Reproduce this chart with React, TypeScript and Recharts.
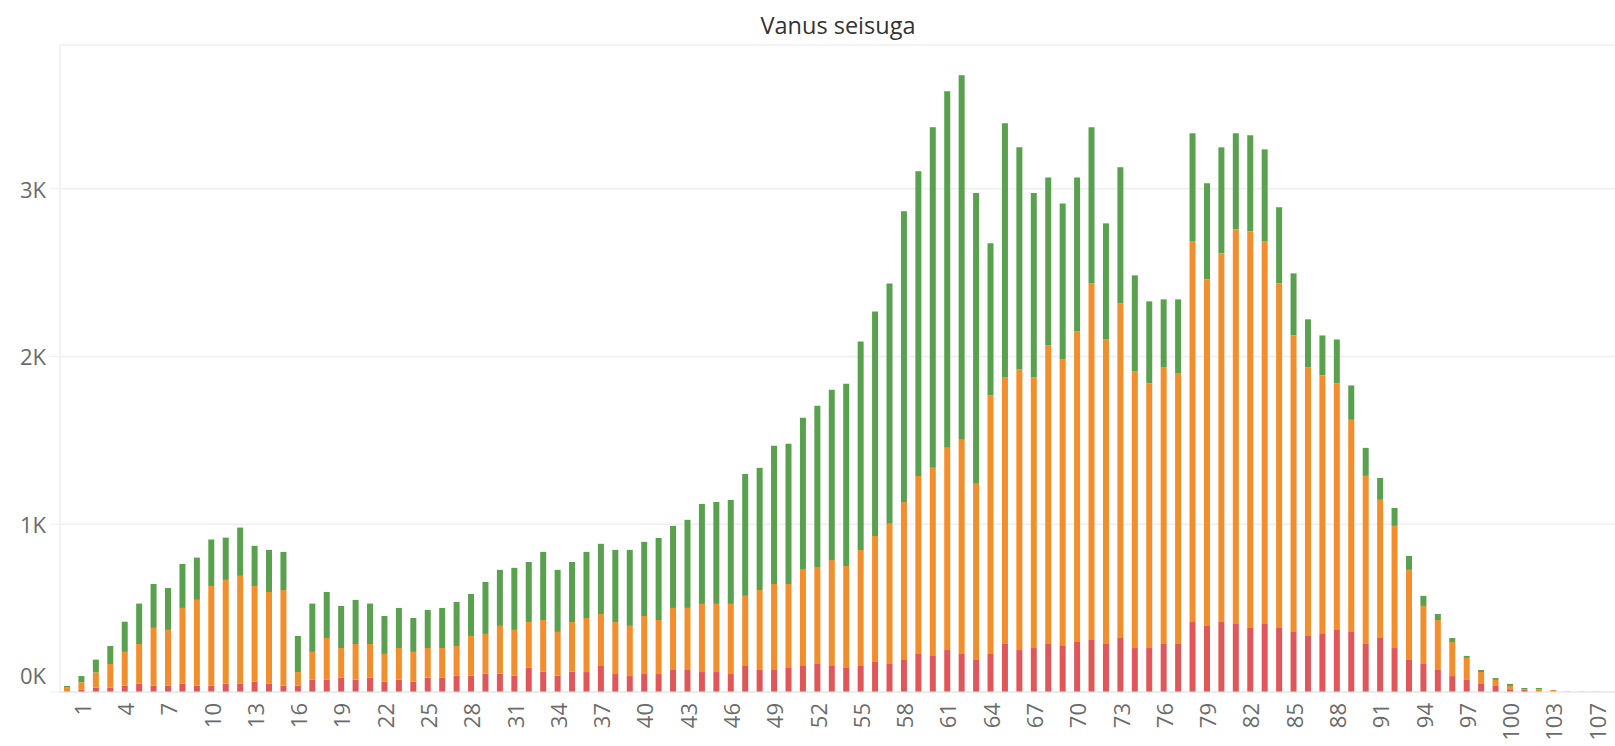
import { Bar, BarChart, CartesianGrid, XAxis, YAxis } from 'recharts'

// ages on the axis (104-106 partly missing in the source data)
const ages = [
  0, 1, 2, 3, 4, 5, 6, 7, 8, 9, 10, 11, 12, 13, 14, 15, 16, 17, 18, 19, 20,
  21, 22, 23, 24, 25, 26, 27, 28, 29, 30, 31, 32, 33, 34, 35, 36, 37, 38, 39,
  40, 41, 42, 43, 44, 45, 46, 47, 48, 49, 50, 51, 52, 53, 54, 55, 56, 57, 58,
  59, 60, 61, 62, 63, 64, 65, 66, 67, 68, 69, 70, 71, 72, 73, 74, 75, 76, 77,
  78, 79, 80, 81, 82, 83, 84, 85, 86, 87, 88, 89, 90, 91, 92, 93, 94, 95, 96,
  97, 98, 99, 100, 101, 102, 103, 104, 105, 107,
]

const redVals = [
  4, 14, 26, 26, 38, 50, 38, 38, 50, 38, 38, 50, 50, 62, 50, 38, 38, 74, 74,
  85, 74, 85, 62, 74, 62, 85, 85, 97, 97, 109, 109, 97, 145, 121, 97, 121,
  119, 155, 107, 95, 107, 107, 131, 131, 119, 119, 107, 155, 131, 131, 143,
  155, 167, 155, 143, 155, 179, 167, 191, 227, 215, 250, 227, 191, 227, 286,
  250, 262, 286, 274, 298, 310, 286, 322, 262, 262, 286, 286, 417, 394, 417,
  406, 382, 406, 382, 358, 334, 346, 370, 358, 286, 322, 262, 191, 167, 131,
  95, 72, 48, 36, 12, 12, 4, 2, 0, 1, 0,
]

const orangeVals = [
  22, 44, 91, 141, 201, 236, 344, 332, 451, 511, 594, 618, 642, 570, 546, 570,
  81, 165, 248, 177, 212, 201, 165, 188, 177, 177, 177, 177, 237, 237, 285,
  273, 272, 308, 261, 296, 322, 310, 310, 299, 346, 322, 370, 370, 406, 406,
  418, 418, 477, 513, 501, 573, 573, 632, 608, 692, 751, 835, 942, 1061, 1121,
  1205, 1276, 1050, 1540, 1589, 1672, 1613, 1780, 1708, 1851, 2125, 1815, 1994,
  1648, 1577, 1648, 1613, 2269, 2065, 2197, 2351, 2363, 2280, 2053, 1767, 1600,
  1541, 1469, 1264, 1002, 823, 728, 537, 346, 298, 203, 131, 71, 36, 24, 4, 12,
  10, 2, 0, 1,
]

const greenVals = [
  10, 37, 76, 107, 180, 241, 262, 250, 262, 252, 277, 252, 288, 239, 251, 227,
  215, 288, 274, 251, 263, 241, 226, 239, 202, 227, 239, 263, 250, 310, 334,
  370, 358, 406, 370, 358, 394, 418, 430, 453, 442, 489, 489, 525, 596, 608,
  620, 727, 728, 823, 835, 906, 966, 1014, 1086, 1242, 1338, 1433, 1732, 1815,
  2030, 2125, 2173, 1733, 907, 1515, 1324, 1099, 1001, 930, 918, 931, 692, 811,
  573, 489, 406, 441, 644, 573, 632, 573, 573, 548, 454, 370, 287, 238, 262,
  205, 167, 131, 107, 83, 60, 36, 24, 12, 12, 11, 12, 8, 8, 0, 0, 0, 0,
]

const yTicks = [0, 1000, 2000, 3000]

const data = ages.map((age, i) => ({
  age: String(age),
  red: redVals[i],
  orange: orangeVals[i],
  green: greenVals[i],
}))

const FONT = "'Open Sans', sans-serif"

const AgeTick = (props: any) => {
  const { x, y, payload, index } = props
  if (index % 3 !== 1) return null
  return (
    <text
      x={x}
      y={y}
      transform={`rotate(-90, ${x}, ${y})`}
      textAnchor="end"
      dominantBaseline="central"
      fontSize={22}
      fontFamily={FONT}
      fill="#6b6b6b"
    >
      {payload.value}
    </text>
  )
}

const CountTick = (props: any) => {
  const { x, y, payload } = props
  const shift = payload.value === 0 ? -17 : 0
  return (
    <text
      x={x}
      y={y + shift}
      textAnchor="end"
      dominantBaseline="central"
      fontSize={22}
      fontFamily={FONT}
      fill="#6b6b6b"
    >
      {`${payload.value / 1000}K`}
    </text>
  )
}

export default function App() {
  return (
    <div
      style={{
        position: 'absolute',
        left: 0,
        top: 0,
        width: 1615,
        height: 746,
        background: '#fff',
      }}
    >
      <BarChart
        width={1615}
        height={746}
        data={data}
        margin={{ top: 45, right: 0, left: 0, bottom: 14 }}
        barSize={6}
      >
        <text
          x={838}
          y={25}
          textAnchor="middle"
          dominantBaseline="central"
          fontSize={23.5}
          fontFamily={FONT}
          fill="#333"
        >
          Vanus seisuga
        </text>
        <CartesianGrid vertical={false} stroke="#efefef" strokeWidth={1.5} />
        <XAxis
          dataKey="age"
          interval={0}
          tick={<AgeTick />}
          tickLine={false}
          tickSize={0}
          tickMargin={11}
          height={40}
          axisLine={{ stroke: '#e6e6e6' }}
          padding={{ left: 0, right: 11 }}
        />
        <YAxis
          domain={[0, 3856]}
          ticks={yTicks}
          width={60}
          tick={<CountTick />}
          tickSize={10}
          tickMargin={4}
          tickLine={{ stroke: '#efefef' }}
          axisLine={{ stroke: '#efefef', strokeWidth: 1.5 }}
        />
        <Bar dataKey="red" stackId="a" fill="#E15759" isAnimationActive={false} />
        <Bar dataKey="orange" stackId="a" fill="#F28E2B" isAnimationActive={false} />
        <Bar dataKey="green" stackId="a" fill="#59A14F" isAnimationActive={false} />
      </BarChart>
    </div>
  )
}
